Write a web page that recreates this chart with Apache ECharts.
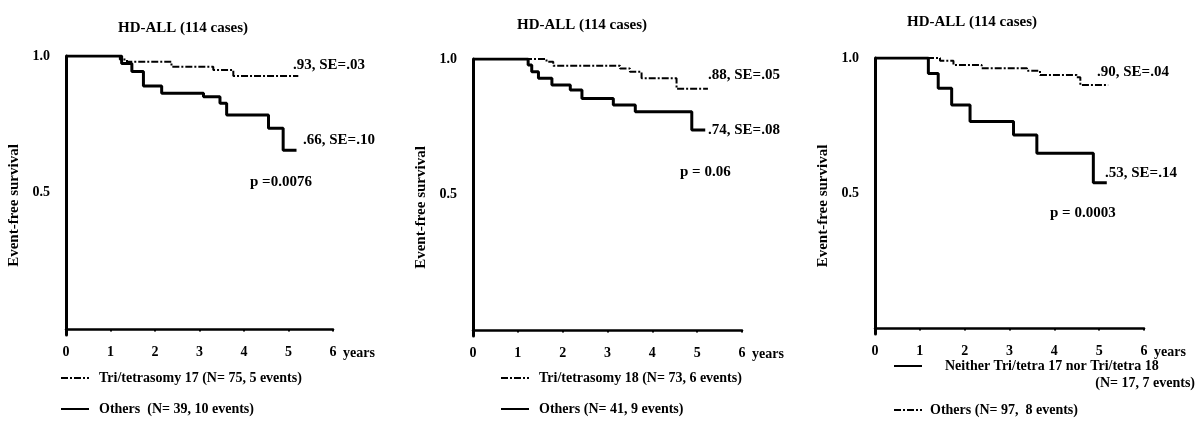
<!DOCTYPE html>
<html>
<head>
<meta charset="utf-8">
<script src="https://cdn.jsdelivr.net/npm/echarts@6/dist/echarts.min.js"></script>
<style>
  html, body { margin: 0; padding: 0; background: #fff; }
  #charts { width: 1200px; height: 444px; }
</style>
</head>
<body>
<div id="charts"></div>
<script>
  // x axis: years, y axis: event-free survival
  var yearTicks = [0, 1, 2, 3, 4, 5, 6];
  var survTicks = [0.5, 1.0];

  // panel 1 - trisomy 17
  var p1Tri17 = [[0, 1], [1.21, 0.987], [1.37, 0.979], [2.37, 0.961], [3.31, 0.949], [3.76, 0.927], [5.22, 0.927]];
  var p1Others = [[0, 1], [1.25, 0.973], [1.48, 0.943], [1.74, 0.89], [2.15, 0.864], [3.09, 0.851], [3.46, 0.827], [3.61, 0.784], [4.55, 0.736], [4.88, 0.655], [5.18, 0.655]];
  // panel 2 - trisomy 18
  var p2Tri18 = [[0, 1], [1.64, 0.99], [1.79, 0.975], [3.28, 0.965], [3.5, 0.953], [3.76, 0.929], [4.54, 0.89], [5.24, 0.89]];
  var p2Others = [[0, 1], [1.23, 0.978], [1.31, 0.953], [1.46, 0.929], [1.76, 0.904], [2.17, 0.886], [2.43, 0.855], [3.13, 0.831], [3.62, 0.806], [4.88, 0.739], [5.18, 0.739]];
  // panel 3 - neither
  var p3Neither = [[0, 1], [1.19, 0.943], [1.41, 0.888], [1.71, 0.826], [2.12, 0.765], [3.09, 0.715], [3.61, 0.648], [4.87, 0.539], [5.17, 0.539]];
  var p3Others = [[0, 1], [1.45, 0.99], [1.75, 0.974], [2.38, 0.962], [3.39, 0.953], [3.68, 0.937], [4.5, 0.929], [4.58, 0.9], [5.2, 0.9]];

  var names = [
    'Tri/tetrasomy 17 (N= 75, 5 events)', 'Others  (N= 39, 10 events)',
    'Tri/tetrasomy 18 (N= 73, 6 events)', 'Others (N= 41, 9 events)',
    'Neither Tri/tetra 17 nor Tri/tetra 18', 'Others (N= 97,  8 events)'
  ];

  var FONT = '"Liberation Serif", "DejaVu Serif", serif';
  var grids = [
    {left: 66, top: 56, width: 267, height: 279},
    {left: 473, top: 59, width: 269, height: 277},
    {left: 875, top: 58, width: 269, height: 276}
  ];

  function xAx(i) {
    return {
      type: 'value', gridIndex: i, min: 0, max: 6, interval: 1,
      name: 'years', nameLocation: 'end', nameGap: 10,
      nameTextStyle: {fontFamily: FONT, fontWeight: 'bold', fontSize: 14, color: '#000', verticalAlign: 'top', padding: [17, 0, 0, 0]},
      axisLine: {lineStyle: {color: '#000', width: 2.5}},
      axisTick: {show: true, length: 2, lineStyle: {color: '#000', width: 2}},
      axisLabel: {
        fontFamily: FONT, fontWeight: 'bold', fontSize: 14, color: '#000', margin: 10,
        customValues: yearTicks
      },
      splitLine: {show: false}
    };
  }
  function yAx(i) {
    return {
      type: 'value', gridIndex: i, min: -0.02, max: 1,
      name: 'Event-free survival', nameLocation: 'middle', nameGap: 44, nameRotate: 90,
      nameTextStyle: {fontFamily: FONT, fontWeight: 'bold', fontSize: 15, color: '#000', padding: [0, 20, 0, 0]},
      axisLine: {show: true, lineStyle: {color: '#000', width: 3}},
      axisTick: {show: false},
      axisLabel: {
        fontFamily: FONT, fontWeight: 'bold', fontSize: 14, color: '#000', margin: 16,
        customValues: survTicks,
        formatter: function (v) { return v.toFixed(1); }
      },
      splitLine: {show: false}
    };
  }

  var dashStyle = {color: '#000', width: 2, type: [7, 2, 2, 2]};
  var solidStyle = {color: '#000', width: 3, type: 'solid'};
  function ser(name, i, data, dashed) {
    return {
      name: name, type: 'line', step: 'end', xAxisIndex: i, yAxisIndex: i,
      symbol: 'none', data: data, z: dashed ? 2 : 3,
      lineStyle: dashed ? dashStyle : solidStyle,
      itemStyle: {color: '#000'}
    };
  }

  var legendText = {fontFamily: FONT, fontWeight: 'bold', fontSize: 14, color: '#000', padding: [0, 0, 0, 5]};
  function leg(data, left, top, gap, pad) {
    var ts = Object.assign({}, legendText);
    if (pad != null) ts.padding = [0, 0, 0, pad];
    return {
      data: data, orient: 'vertical', left: left, top: top, itemGap: gap,
      itemWidth: 28, itemHeight: 14, padding: 0, selectedMode: false,
      itemStyle: {opacity: 0},
      textStyle: ts
    };
  }

  function txt(x, y, s) {
    return {type: 'text', x: x, y: y, style: {text: s, fontFamily: FONT, fontWeight: 'bold', fontSize: 15, fill: '#000', verticalAlign: 'middle'}};
  }

  var titles = [118, 517, 907].map(function (x, k) {
    return {text: 'HD-ALL (114 cases)', left: x, top: [21, 18, 15][k], padding: 0,
      textStyle: {fontFamily: FONT, fontWeight: 'bold', fontSize: 15, color: '#000'}};
  });

  var option = {
    animation: false,
    backgroundColor: '#fff',
    title: titles,
    grid: grids,
    xAxis: [xAx(0), xAx(1), xAx(2)],
    yAxis: [yAx(0), yAx(1), yAx(2)],
    legend: [
      leg([names[0], names[1]], 60, 371, 17),
      leg([names[2], names[3]], 500, 371, 17),
      leg([names[4]], 893, 359, 10, 18),
      leg([names[5]], 893, 403, 10, 3)
    ],
    series: [
      ser(names[0], 0, p1Tri17, true),
      ser(names[1], 0, p1Others, false),
      ser(names[2], 1, p2Tri18, true),
      ser(names[3], 1, p2Others, false),
      ser(names[4], 2, p3Neither, false),
      ser(names[5], 2, p3Others, true)
    ],
    graphic: [
      txt(293, 65, '.93, SE=.03'),
      txt(303, 140, '.66, SE=.10'),
      txt(250, 182, 'p =0.0076'),
      txt(708, 75, '.88, SE=.05'),
      txt(708, 130, '.74, SE=.08'),
      txt(680, 172, 'p = 0.06'),
      txt(1097, 72, '.90, SE=.04'),
      txt(1105, 173, '.53, SE=.14'),
      txt(1050, 213, 'p = 0.0003'),
      {type: 'text', right: 5, y: 376, style: {text: '(N= 17, 7 events)', fontFamily: FONT, fontWeight: 'bold', fontSize: 14, fill: '#000'}}
    ]
  };

  var myChart = echarts.init(document.getElementById('charts'));
  myChart.setOption(option);
</script>
</body>
</html>
